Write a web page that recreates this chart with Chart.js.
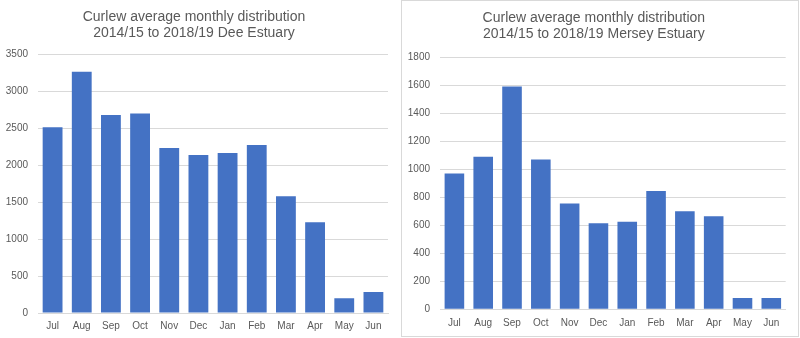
<!DOCTYPE html>
<html>
<head>
<meta charset="utf-8">
<script src="https://cdn.jsdelivr.net/npm/chart.js@4"></script>
<style>
    html, body { margin: 0; padding: 0; background: #fff; }
    body { width: 800px; height: 338px; position: relative; overflow: hidden; }
    #dee-chart { position: absolute; left: 0; top: 0; }
    .frame { position: absolute; left: 401px; top: 0; width: 396px; height: 335px; border: 1px solid #d9d9d9; }
</style>
</head>
<body>
<canvas id="dee-chart" width="400" height="338"></canvas>
<div class="frame"><canvas id="mersey-chart" width="396" height="335"></canvas></div>
<script>
// Curlew monthly averages
const months = ['Jul', 'Aug', 'Sep', 'Oct', 'Nov', 'Dec', 'Jan', 'Feb', 'Mar', 'Apr', 'May', 'Jun'];
const deeCounts = [2515, 3265, 2680, 2700, 2235, 2140, 2165, 2275, 1580, 1230, 200, 285];
const merseyCounts = [970, 1090, 1590, 1070, 755, 615, 625, 845, 700, 665, 80, 80];
const deeTitle = ['Curlew average monthly distribution', '2014/15 to 2018/19 Dee Estuary'];
const merseyTitle = ['Curlew average monthly distribution', '2014/15 to 2018/19 Mersey Estuary'];

const colors = {
    bar: '#4472c4',
    grid: '#d9d9d9',
    text: '#595959'
};

Chart.defaults.font.family = "'Liberation Sans', Arial, sans-serif";
Chart.defaults.color = colors.text;

function makeChart(id, values, title, opts) {
    const ctx = document.getElementById(id);
    if (!ctx) return;

    new Chart(ctx, {
        type: 'bar',
        data: {
            labels: months,
            datasets: [{
                data: values,
                backgroundColor: colors.bar,
                borderWidth: 0,
                categoryPercentage: 1,
                barPercentage: 0.68
            }]
        },
        options: {
            responsive: false,
            animation: false,
            layout: {
                padding: { left: 0, right: opts.padRight, top: 0, bottom: 0 }
            },
            plugins: {
                legend: { display: false },
                tooltip: { enabled: false },
                title: {
                    display: true,
                    text: title,
                    color: colors.text,
                    font: { size: 14, weight: 'normal' },
                    lineHeight: 1.2,
                    padding: { top: opts.titleTop, bottom: opts.titleBottom }
                }
            },
            scales: {
                x: {
                    grid: { display: false, drawTicks: false },
                    border: { display: true, color: colors.grid, width: 1 },
                    ticks: { font: { size: 10 }, padding: opts.xPad, color: colors.text },
                    afterFit: (scale) => { scale.height = opts.xHeight; }
                },
                y: {
                    min: 0,
                    max: opts.max,
                    ticks: {
                        stepSize: opts.step,
                        font: { size: 10 },
                        padding: 10,
                        color: colors.text,
                        callback: (v) => String(v)
                    },
                    grid: { color: colors.grid, drawTicks: false },
                    border: { display: false },
                    afterFit: (scale) => { scale.width = 38; }
                }
            }
        }
    });
}

makeChart('dee-chart', deeCounts, deeTitle, {
    max: 3500, step: 500,
    padRight: 12, titleTop: 8.3, titleBottom: 12.6, xPad: 7, xHeight: 25
});

makeChart('mersey-chart', merseyCounts, merseyTitle, {
    max: 1800, step: 200,
    padRight: 12.3, titleTop: 8.3, titleBottom: 14.3, xPad: 8, xHeight: 26.7
});
</script>
</body>
</html>
